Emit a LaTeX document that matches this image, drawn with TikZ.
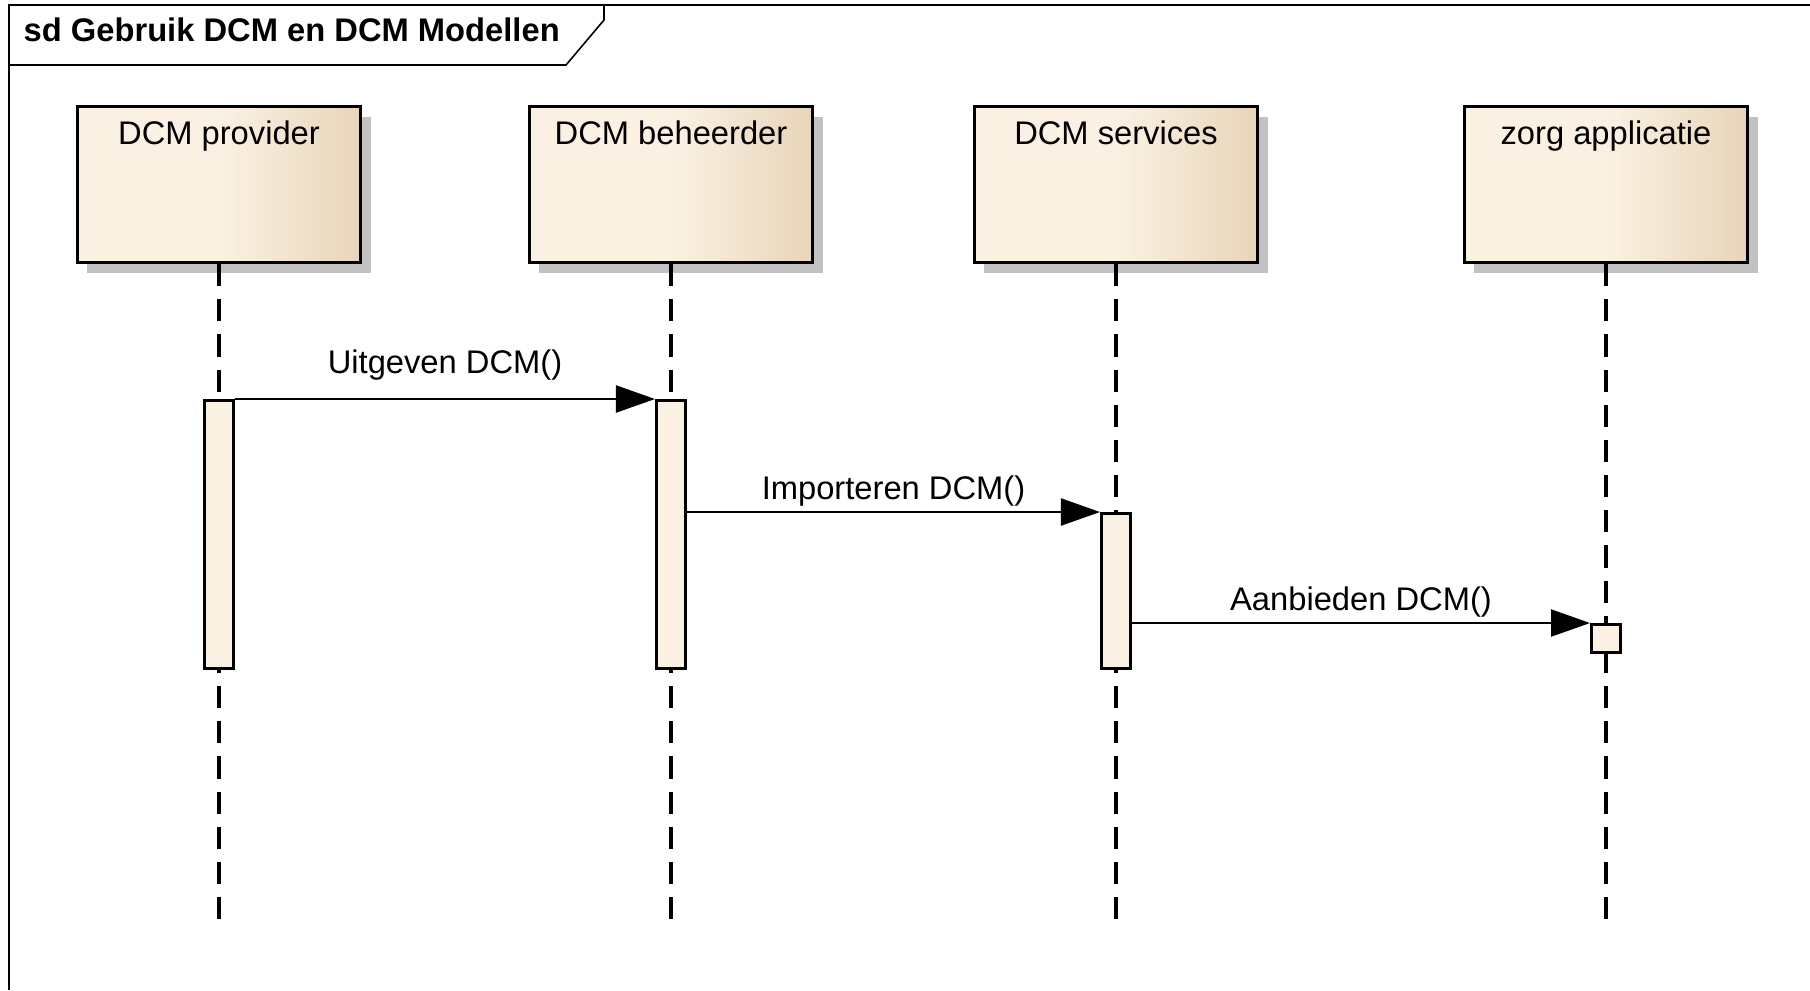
\documentclass[tikz,border=0pt]{standalone}
\usepackage{fontspec}
\setmainfont{Liberation Sans}
\usetikzlibrary{positioning,arrows.meta,shadows}

\definecolor{headlight}{HTML}{FBF1E3}
\definecolor{headdark}{HTML}{E8D5B9}
\definecolor{shadowgrey}{HTML}{C2C2C2}
\pgfdeclarehorizontalshading{headshade}{100bp}{color(0bp)=(headlight); color(50bp)=(headlight); color(75bp)=(headdark); color(100bp)=(headdark)}

\newcommand{\sdfont}{\fontsize{9.3pt}{11pt}\selectfont}

\tikzset{
  frame/.style={line width=0.45pt},
  head/.style={draw, line width=0.85pt, shading=headshade, anchor=north,
    minimum width=2.83cm, minimum height=1.56cm, inner sep=0pt,
    drop shadow={shadow xshift=0.1cm, shadow yshift=-0.1cm, fill=shadowgrey, opacity=1}},
  headlabel/.style={anchor=base, font=\sdfont, inner sep=0pt},
  lifeline/.style={line width=0.95pt, dash pattern=on 6.3pt off 3.7pt},
  act/.style={draw, line width=0.85pt, fill=headlight, anchor=north,
    minimum width=0.29cm, inner sep=0pt},
  msg/.style={line width=0.6pt, -{Triangle[length=0.39cm,width=0.27cm]}},
  msglabel/.style={midway, above=0.18cm, font=\sdfont, inner sep=0pt}
}

\begin{document}
\begin{tikzpicture}[x=0.01cm,y=-0.01cm]
   \useasboundingbox (0,0) rectangle (1810,990);
   % frame with title tab
   \draw[frame] (9,990) -- (9,5) -- (1810,5);
   \draw[frame] (9,65) -- (566,65) -- (604,20) -- (604,5);
   \node[anchor=base west, inner sep=0pt, font=\sdfont\bfseries] (title) at (23,41.5) {sd Gebruik DCM en DCM Modellen};
   % lifelines
   \coordinate (provend) at (219,925);
   \coordinate (behend)  at (671,925);
   \coordinate (servend) at (1116,925);
   \coordinate (zorgend) at (1606,925);
   \node[head] (prov) at (219,105)  {};
   \node[head] (beh)  at (671,105)  {};
   \node[head] (serv) at (1116,105) {};
   \node[head] (zorg) at (1606,105) {};
   \node[headlabel] (provtxt) at ([yshift=-0.39cm]prov.north) {DCM provider};
   \node[headlabel] (behtxt)  at ([yshift=-0.39cm]beh.north)  {DCM beheerder};
   \node[headlabel] (servtxt) at ([yshift=-0.39cm]serv.north) {DCM services};
   \node[headlabel] (zorgtxt) at ([yshift=-0.39cm]zorg.north) {zorg applicatie};
   \draw[lifeline] (prov.south) -- (provend);
   \draw[lifeline] (beh.south)  -- (behend);
   \draw[lifeline] (serv.south) -- (servend);
   \draw[lifeline] (zorg.south) -- (zorgend);
   % activations
   \node[act, minimum height=2.68cm] (provact) at (219,399)  {};
   \node[act, minimum height=2.68cm] (behact)  at (671,399)  {};
   \node[act, minimum height=1.55cm] (servact) at (1116,512) {};
   \node[act, minimum height=0.28cm] (zorgact) at (1606,623) {};
   % messages
   \draw[msg] (provact.north east) -- node[msglabel] (m1) {Uitgeven DCM()} (behact.north west);
   \draw[msg] (servact.north west -| behact.east) -- node[msglabel, above=0.05cm] (m2) {Importeren DCM()} (servact.north west);
   \draw[msg] (zorgact.north west -| servact.east) -- node[msglabel, above=0.05cm] (m3) {Aanbieden DCM()} (zorgact.north west);
\end{tikzpicture}
\end{document}
